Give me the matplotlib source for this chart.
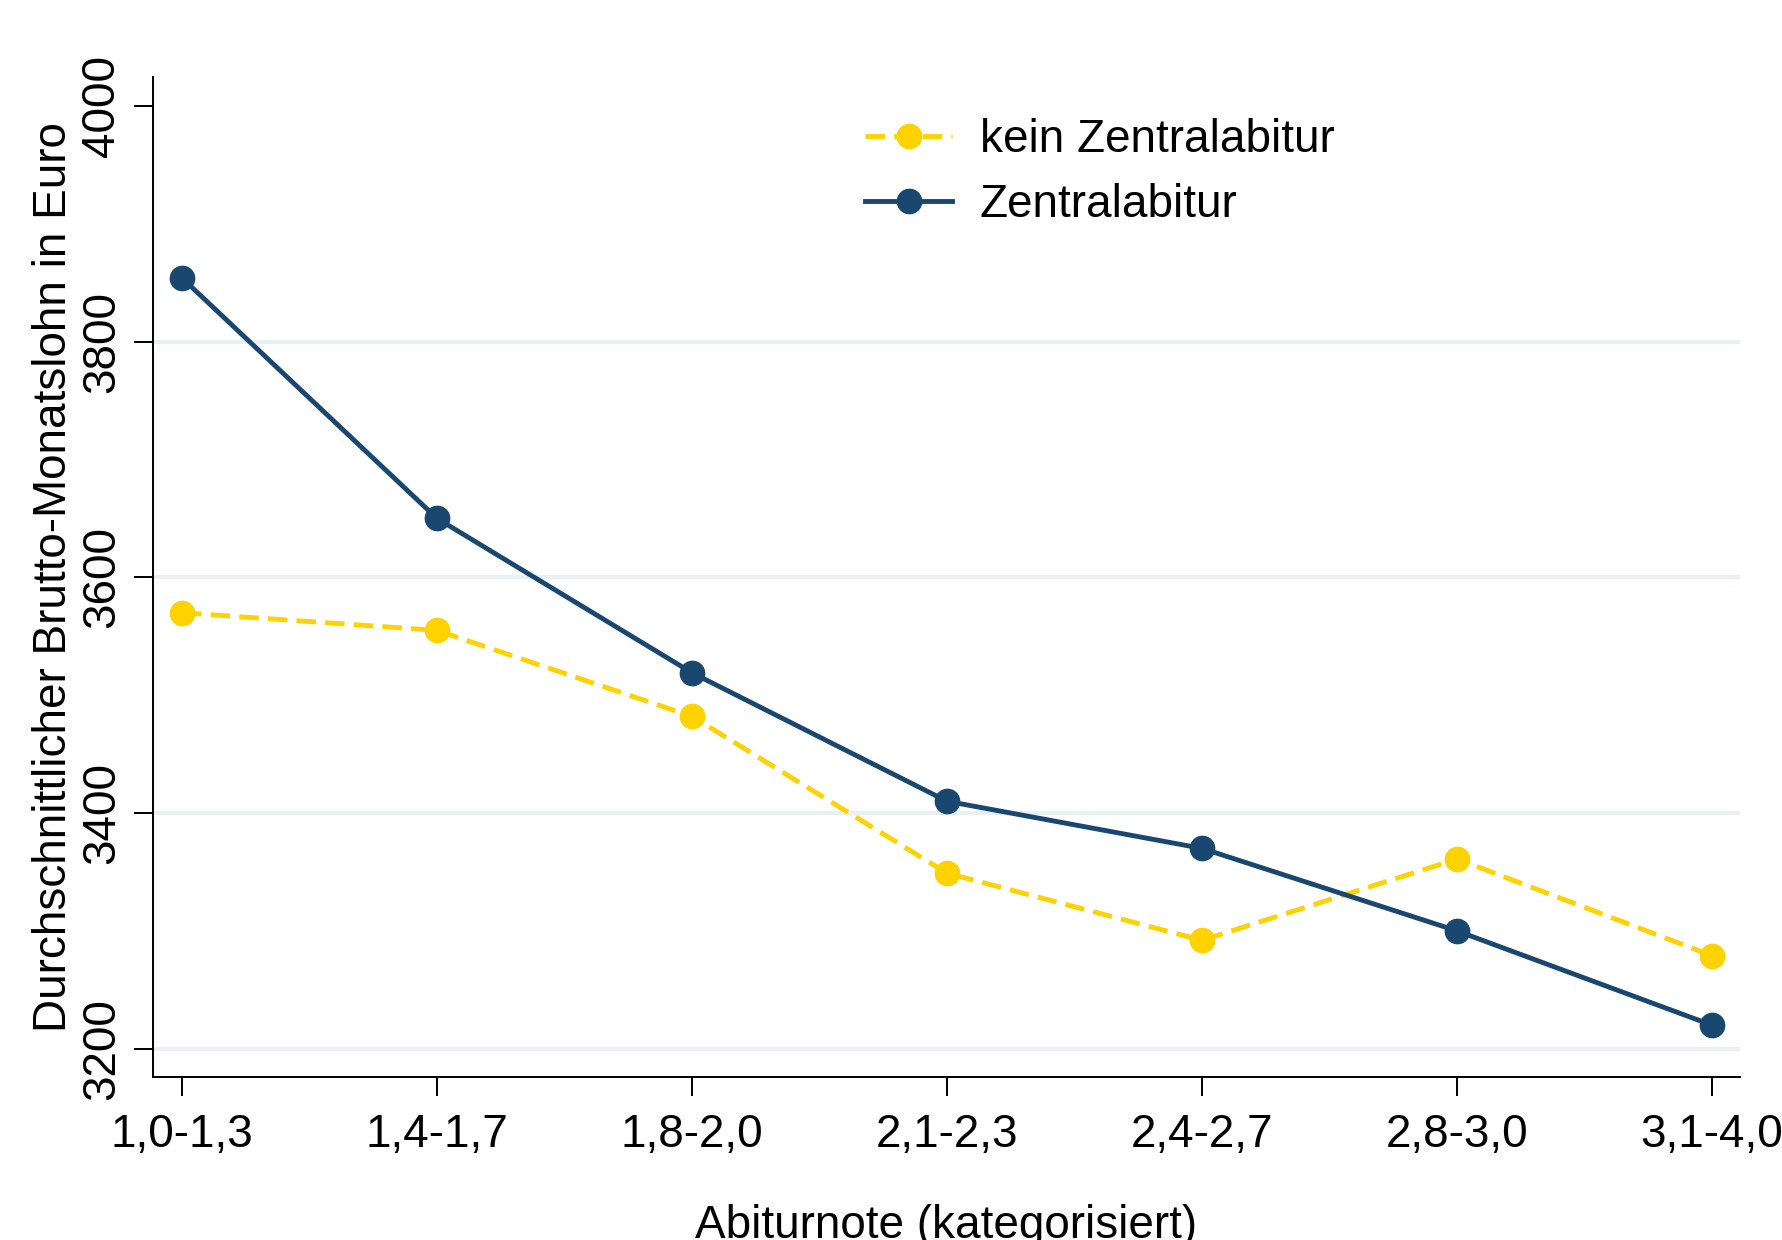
import numpy as np
from matplotlib import pyplot as plt

# Daten
kategorien = ['1,0-1,3', '1,4-1,7', '1,8-2,0', '2,1-2,3', '2,4-2,7', '2,8-3,0', '3,1-4,0']
kein_zentral = [3570, 3555, 3482, 3349, 3292, 3361, 3279]
zentral = [3854, 3650, 3519, 3410, 3370, 3300, 3220]
y_ticks = [3200, 3400, 3600, 3800, 4000]
grid_werte = [3200, 3400, 3600, 3800]

gelb = '#ffd200'
navy = '#1a476f'

plt.rcParams['font.family'] = ['Liberation Sans', 'DejaVu Sans']
fs = 33

fig = plt.figure(figsize=(17.82, 12.40), dpi=100)
ax = fig.add_axes([153 / 1782, 1 - 1077 / 1240, (1740 - 153) / 1782, (1077 - 77) / 1240])

x = np.arange(len(kategorien))

# Gitterlinien
for g in grid_werte:
    ax.axhline(g, color='#e9f0f3', linewidth=3, zorder=0)

ax.plot(x, kein_zentral, color=gelb, linestyle=(0, (4, 1.9)), linewidth=3.5,
        marker='o', markersize=17.5, label='kein Zentralabitur', zorder=3)
ax.plot(x, zentral, color=navy, linestyle='-', linewidth=3.5,
        marker='o', markersize=17.5, label='Zentralabitur', zorder=4)

ax.set_xlim(-0.114, 6.11)
ax.set_ylim(3176, 4024.6)
ax.set_xticks(x)
ax.set_xticklabels(kategorien, fontsize=fs)
ax.set_yticks(y_ticks)
ax.set_yticklabels([str(v) for v in y_ticks], fontsize=fs, rotation=90, va='center')
ax.tick_params(axis='both', length=14, width=1.4, color='black')
ax.tick_params(axis='x', pad=12)
ax.tick_params(axis='y', pad=7)

for s in ['top', 'right']:
    ax.spines[s].set_visible(False)
for s in ['left', 'bottom']:
    ax.spines[s].set_linewidth(1.4)

ax.set_xlabel('Abiturnote (kategorisiert)', fontsize=fs, labelpad=34)
ax.set_ylabel('Durchschnittlicher Brutto-Monatslohn in Euro', fontsize=fs, labelpad=3)

ax.legend(loc='upper left', bbox_to_anchor=(865 / 1782, 1 - 118 / 1240),
          bbox_transform=fig.transFigure, frameon=False, fontsize=fs,
          handlelength=1.9, handletextpad=0.6, labelspacing=0.45,
          borderaxespad=0, borderpad=0)

fig.savefig('out.png', dpi=100)
